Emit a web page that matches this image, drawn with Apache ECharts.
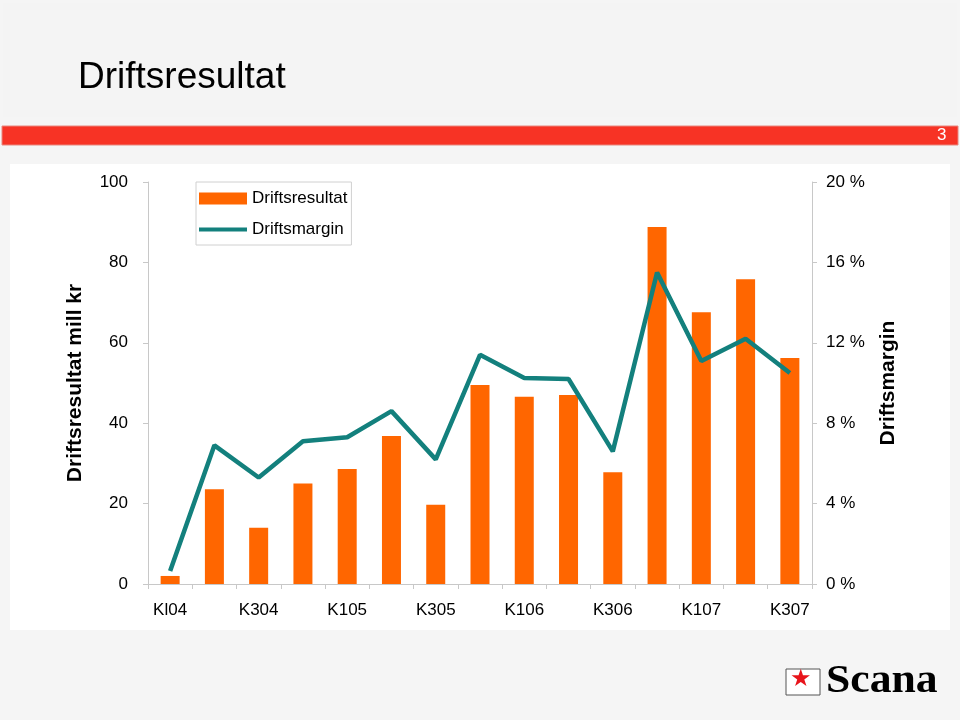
<!DOCTYPE html>
<html>
<head>
<meta charset="utf-8">
<script src="https://cdn.jsdelivr.net/npm/echarts@6/dist/echarts.min.js"></script>
<style>
html,body{margin:0;padding:0;background:#f5f5f5;}
#c{width:960px;height:720px;}
</style>
</head>
<body>
<div id="c"></div>
<script>
const categories = ['Kl04','K204','K304','K404','K105','K205','K305','K405','K106','K206','K306','K406','K107','K207','K307'];
const driftsresultat = [2, 23.6, 14, 25, 28.6, 36.8, 19.7, 49.5, 46.6, 47, 27.8, 88.8, 67.6, 75.8, 56.2];
const driftsmargin = [0.65, 6.9, 5.3, 7.1, 7.3, 8.6, 6.2, 11.4, 10.25, 10.2, 6.6, 15.5, 11.1, 12.2, 10.5];
const leftTicks = [0, 20, 40, 60, 80, 100];
const rightTicks = [0, 4, 8, 12, 16, 20];

const chart = echarts.init(document.getElementById('c'));
const axisCol = '#c8c8c8';
const ff = '"Liberation Sans", Arial, sans-serif';
chart.setOption({
  backgroundColor: '#f5f5f5',
  animation: false,
  graphic: [
    {type:'rect', shape:{x:3,y:3,width:954,height:114}, style:{fill:'#f4f4f4'}, z:-10},
    {type:'text', left:78, top:59, style:{text:'Driftsresultat', font:'37px ' + ff, fill:'#000'}},
    {type:'rect', shape:{x:2,y:126,width:956,height:19}, style:{fill:'#f73325', stroke:'#e8877f', lineWidth:1}},
    {type:'text', left:937, top:127, style:{text:'3', font:'17px ' + ff, fill:'#fff'}},
    {type:'rect', shape:{x:10,y:164,width:940,height:466}, style:{fill:'#ffffff'}, z:-5},
    {type:'rect', shape:{x:786,y:669,width:34,height:26}, style:{fill:'#fff', stroke:'#555', lineWidth:1}},
    {type:'text', left:790, top:668, style:{text:'★', font:'24px "DejaVu Sans", sans-serif', fill:'#e8141b'}},
    {type:'text', x:826, y:662, scaleX:1.12, style:{text:'Scana', font:'bold 39px "Liberation Serif", "DejaVu Serif", serif', fill:'#000'}}
  ],
  legend: {
    left: 196, top: 182, orient: 'vertical', itemGap: 14,
    itemWidth: 48, itemHeight: 12,
    backgroundColor: '#fff', borderColor: '#d0d0d0', borderWidth: 1,
    padding: [8, 4, 7, 3],
    textStyle: {fontSize: 17, color: '#000', fontFamily: ff},
    data: [
      {name: 'Driftsresultat', icon: 'rect'},
      {name: 'Driftsmargin', icon: 'path://M0,4 L48,4 L48,8 L0,8 Z'}
    ]
  },
  grid: {left: 148, right: 148, top: 182, bottom: 136},
  xAxis: {
    type: 'category', data: categories,
    axisLine: {lineStyle: {color: axisCol}},
    axisTick: {show: true, alignWithLabel: false, interval: 0, lineStyle: {color: axisCol}, length: 5},
    axisLabel: {interval: 1, color: '#000', fontSize: 17, margin: 18, fontFamily: ff}
  },
  yAxis: [
    {
      type: 'value', min: 0, max: 100, interval: 20,
      name: 'Driftsresultat mill kr', nameLocation: 'middle', nameGap: 62, nameRotate: 90,
      nameTextStyle: {fontSize: 21, fontWeight: 'bold', color: '#000', fontFamily: ff},
      axisLine: {show: true, lineStyle: {color: axisCol}},
      axisTick: {show: true, lineStyle: {color: axisCol}, length: 5},
      splitLine: {show: false},
      axisLabel: {color: '#000', fontSize: 17, margin: 20, fontFamily: ff,
        formatter: v => leftTicks.includes(v) ? String(v) : ''}
    },
    {
      type: 'value', min: 0, max: 20, interval: 4,
      name: 'Driftsmargin', nameLocation: 'middle', nameGap: 66, nameRotate: 90,
      nameTextStyle: {fontSize: 21, fontWeight: 'bold', color: '#000', fontFamily: ff},
      axisLine: {show: true, lineStyle: {color: axisCol}},
      axisTick: {show: true, lineStyle: {color: axisCol}, length: 5},
      splitLine: {show: false},
      axisLabel: {color: '#000', fontSize: 17, margin: 14, fontFamily: ff,
        formatter: v => rightTicks.includes(v) ? v + ' %' : ''}
    }
  ],
  series: [
    {
      name: 'Driftsresultat', type: 'bar', yAxisIndex: 0, data: driftsresultat,
      barWidth: 19, itemStyle: {color: '#ff6600'}
    },
    {
      name: 'Driftsmargin', type: 'line', yAxisIndex: 1, data: driftsmargin,
      symbol: 'none', lineStyle: {color: '#13807d', width: 4.5}, itemStyle: {color: '#13807d'}
    }
  ]
});
</script>
</body>
</html>
